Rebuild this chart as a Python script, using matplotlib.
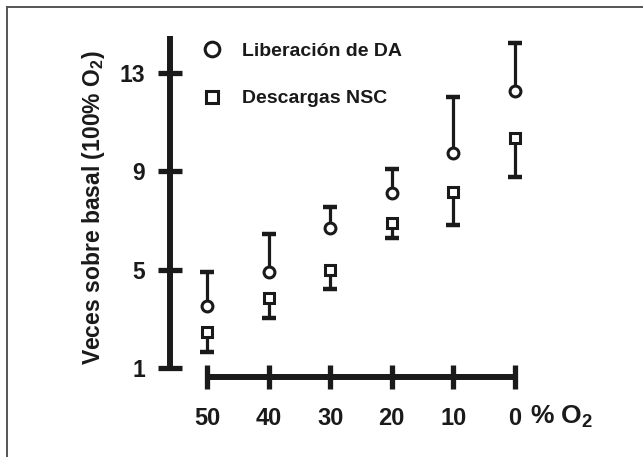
import matplotlib
matplotlib.use("Agg")
import matplotlib.pyplot as plt
from matplotlib.lines import Line2D
import numpy as np

# ---- data ----
o2_levels = [50, 40, 30, 20, 10, 0]
da_mean = [3.5, 4.9, 6.7, 8.1, 9.75, 12.25]
da_upper_err = [1.4, 1.55, 0.85, 1.0, 2.25, 1.95]
nsc_mean = [2.45, 3.85, 5.0, 6.9, 8.15, 10.35]
nsc_lower_err = [0.8, 0.8, 0.8, 0.6, 1.35, 1.6]
x_ticks = [50, 40, 30, 20, 10, 0]
y_ticks = [1, 5, 9, 13]
labels = ["Liberación de DA", "Descargas NSC"]

FONT = ["Liberation Sans", "DejaVu Sans"]
plt.rcParams["font.family"] = FONT
plt.rcParams["font.weight"] = "bold"
plt.rcParams["mathtext.fontset"] = "custom"
plt.rcParams["mathtext.rm"] = "Liberation Sans:bold"
plt.rcParams["mathtext.bf"] = "Liberation Sans:bold"
plt.rcParams["mathtext.it"] = "Liberation Sans:bold"
plt.rcParams["mathtext.default"] = "rm"

W, H = 643, 457
fig = plt.figure(figsize=(W / 100, H / 100), dpi=100)
ax = fig.add_axes([170 / W, 1 - 377 / H, 360 / W, 347 / H])
ax.set_xlim(56.0, -2.44)
ax.set_ylim(0.634, 14.74)

ink = "#1a1a1a"
x = np.array(o2_levels, dtype=float)
da = np.array(da_mean)
nsc = np.array(nsc_mean)
da_top = da + np.array(da_upper_err)
nsc_bot = nsc - np.array(nsc_lower_err)

# error bars (one-sided)
ax.vlines(x, da, da_top, color=ink, lw=2.3, zorder=2)
ax.plot(x, da_top, ls="none", marker="_", ms=9.5, mew=3.2, color=ink, zorder=2)
ax.vlines(x, nsc_bot, nsc, color=ink, lw=2.3, zorder=2)
ax.plot(x, nsc_bot, ls="none", marker="_", ms=9.5, mew=3.2, color=ink, zorder=2)

# markers
h1, = ax.plot(x, da, ls="none", marker="o", ms=7.8, mew=2.2, mfc="white",
              mec=ink, zorder=3, label=labels[0])
h2, = ax.plot(x, nsc, ls="none", marker="s", ms=6.5, mew=2.2, mfc="white",
              mec=ink, zorder=3, label=labels[1])

# spines
for s in ["top", "right"]:
    ax.spines[s].set_visible(False)
ax.spines["left"].set_bounds(1, 14.5)
ax.spines["bottom"].set_bounds(0, 50)
for s in ["left", "bottom"]:
    ax.spines[s].set_linewidth(4.3)
    ax.spines[s].set_color(ink)
    ax.spines[s].set_capstyle("butt")

ax.set_xticks(x_ticks)
ax.set_xticklabels([str(v) for v in x_ticks])
ax.set_yticks(y_ticks)
ax.set_yticklabels([str(v) for v in y_ticks])
ax.tick_params(axis="both", direction="inout", length=17.5, width=3.8,
               color=ink, labelcolor=ink)
ax.tick_params(axis="y", pad=9, labelsize=16.5)
ax.tick_params(axis="x", pad=13, labelsize=17)

ax.set_ylabel(r"Veces sobre basal (100% O$_{2}$)", fontsize=16.5,
              fontweight="bold", color=ink)
ax.yaxis.set_label_coords(-0.175, 0.487)

ax.text(1.0, -0.115, r"% O$_{2}$", transform=ax.transAxes, fontsize=19,
        fontweight="bold", color=ink, ha="left", va="center")

leg = ax.legend(handles=[h1, h2], loc="upper left",
                bbox_to_anchor=(202 / W, 1 - 42 / H),
                bbox_transform=fig.transFigure, frameon=False,
                fontsize=14, handlelength=1.0, handletextpad=1.05,
                labelspacing=1.55, borderpad=0, borderaxespad=0,
                markerscale=1.35)
for t in leg.get_texts():
    t.set_fontweight("bold")
    t.set_color(ink)

# frame lines (top and left)
fig.add_artist(Line2D([7 / W, 1.0], [1 - 7 / H, 1 - 7 / H],
                      transform=fig.transFigure, color="#555555", lw=1.4))
fig.add_artist(Line2D([7 / W, 7 / W], [0.0, 1 - 7 / H],
                      transform=fig.transFigure, color="#555555", lw=1.4))

fig.savefig("out.png", dpi=100)
